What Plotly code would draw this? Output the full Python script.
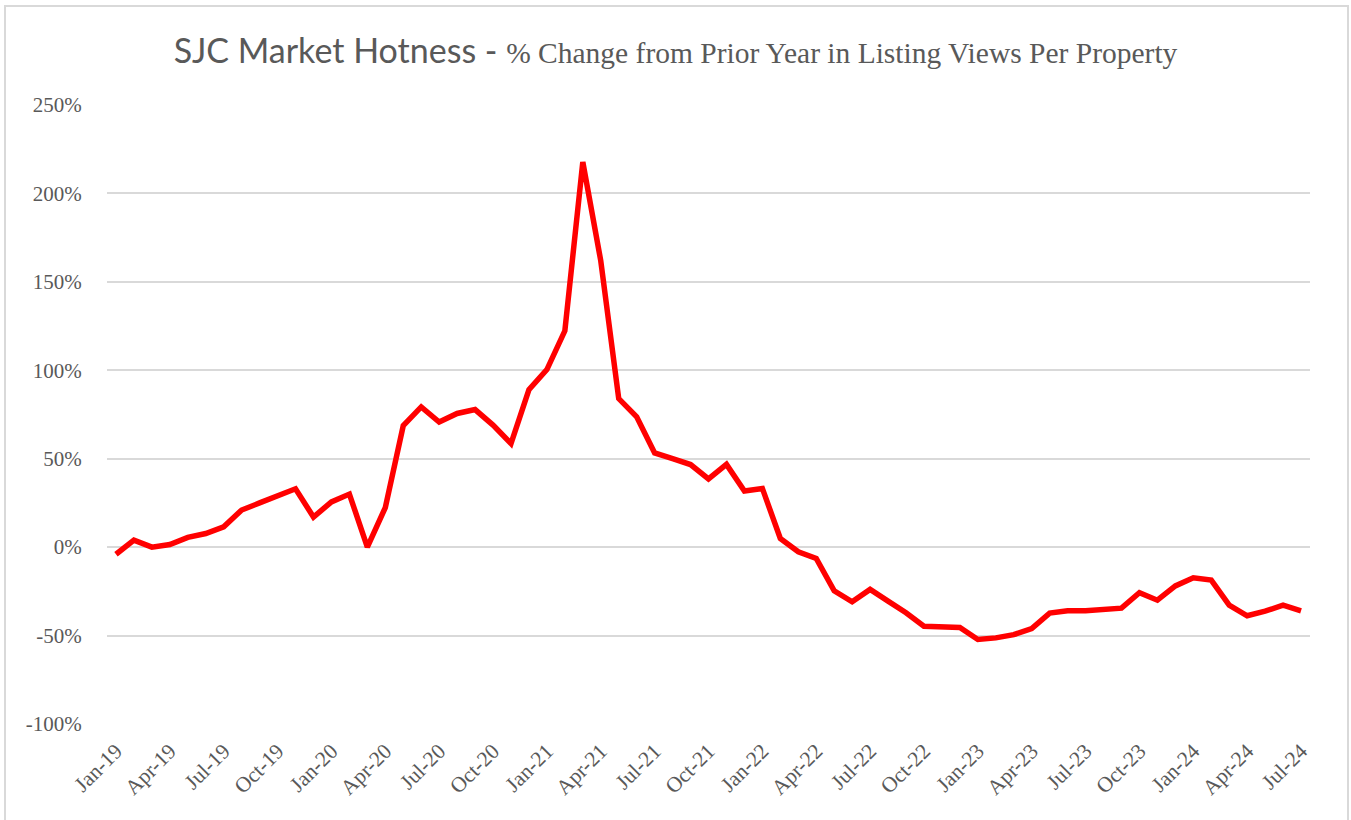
import plotly.graph_objects as go

MONTHS = ["Jan", "Feb", "Mar", "Apr", "May", "Jun", "Jul", "Aug", "Sep", "Oct", "Nov", "Dec"]
YEARS = ["19", "20", "21", "22", "23", "24"]
categories = [f"{m}-{y}" for y in YEARS for m in MONTHS][:67]  # Jan-19 .. Jul-24

pct_change = [
    -4, 4, 0, 1.5, 5.5, 7.7, 11.5, 21, 25, 29.4, 33, 17,
    25.6, 30, 0, 22.4, 68.7, 79.3, 70.7, 75.6, 77.8, 69, 58.6, 89,
    100.4, 122.3, 217.8, 161.9, 84, 73.7, 53.3, 50.1, 46.7, 38.6, 46.8, 31.7,
    33.2, 4.9, -2.6, -6.4, -24.7, -30.9, -23.9, -30.5, -37.1, -44.7, -44.7, -45.4,
    -52.2, -51.3, -49.5, -46, -37.3, -36, -36, -35.2, -34.5, -25.8, -30, -21.9,
    -17.3, -18.6, -32.8, -38.8, -36.2, -32.8, -36,
]

x_ticks = categories[::3]
y_ticks = [-100, -50, 0, 50, 100, 150, 200, 250]
y_ticktext = [f"{v}%" for v in y_ticks]

title_main = "SJC Market Hotness - "
title_sub = "% Change from Prior Year in Listing Views Per Property"

fig = go.Figure()
fig.add_trace(go.Scatter(
    x=categories, y=pct_change, mode="lines",
    line=dict(color="#FF0000", width=5.5),
    showlegend=False,
))

W, H = 1351, 820
ml, mr, mt, mb = 107, 41, 105, 96
pw, ph = W - ml - mr, H - mt - mb

fig.update_layout(
    width=W, height=H,
    margin=dict(l=ml, r=mr, t=mt, b=mb),
    paper_bgcolor="white", plot_bgcolor="white",
    title=dict(
        text=(f"<span style='font-family:Lato, Open Sans, sans-serif;font-size:34px'>{title_main}</span>"
              f"<span style='font-family:Liberation Serif, Times New Roman, serif;font-size:29.5px'>{title_sub}</span>"),
        x=0.5, xanchor="center", xref="container",
        y=1 - 57 / H, yanchor="middle", yref="container",
        font=dict(color="#595959"),
    ),
    xaxis=dict(
        type="category",
        range=[-0.5, len(categories) - 0.5],
        tickmode="array", tickvals=x_ticks, ticktext=x_ticks,
        tickangle=-45,
        showgrid=False, zeroline=False, showline=False,
        ticks="outside", ticklen=5, tickcolor="rgba(0,0,0,0)",
        tickfont=dict(family="Liberation Serif, Times New Roman, serif", size=21.5, color="#595959"),
    ),
    yaxis=dict(
        range=[-100, 250],
        tickmode="array", tickvals=y_ticks, ticktext=y_ticktext,
        showgrid=True, gridcolor="#D9D9D9", gridwidth=1.6,
        zeroline=False, showline=False,
        ticks="outside", ticklen=20, tickcolor="rgba(0,0,0,0)",
        tickfont=dict(family="Liberation Serif, Times New Roman, serif", size=21, color="#595959"),
    ),
)

# outer chart-area border
fig.add_shape(
    type="rect", xref="paper", yref="paper", layer="below",
    x0=(5 - ml) / pw, x1=(1348 - ml) / pw,
    y0=(H - mb - 830) / ph, y1=(H - mb - 6) / ph,
    line=dict(color="#D9D9D9", width=2), fillcolor="rgba(0,0,0,0)",
)

fig.write_html(
    "out.html",
    config={"displayModeBar": False},
    post_script="document.body.style.margin='0';document.body.style.overflow='hidden';",
)
